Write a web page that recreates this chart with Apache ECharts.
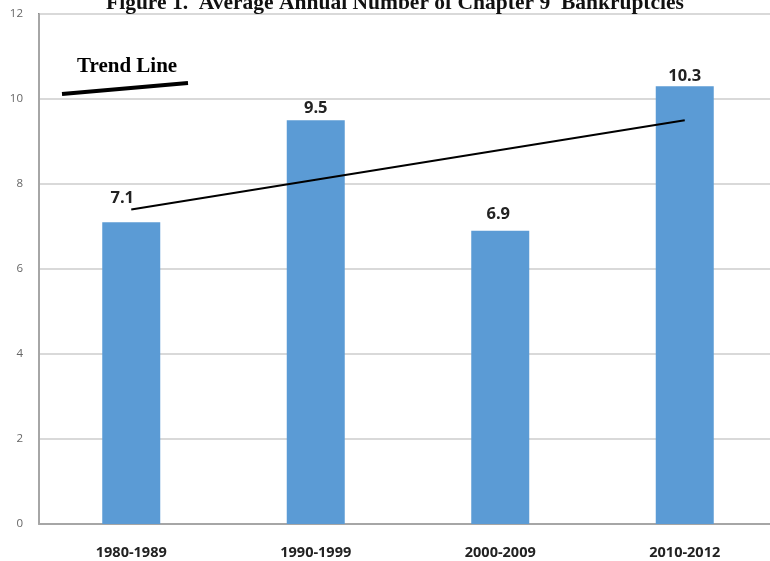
<!DOCTYPE html>
<html>
<head>
<meta charset="utf-8">
<script src="https://cdn.jsdelivr.net/npm/echarts@6/dist/echarts.min.js"></script>
<style>
  html, body { margin: 0; padding: 0; background: #fff; overflow: hidden; }
  #chart { width: 777px; height: 561px; }
</style>
</head>
<body>
<div id="chart"></div>
<script>
// Average annual Chapter 9 bankruptcies by period
const periods = ['1980-1989', '1990-1999', '2000-2009', '2010-2012'];
const avgFilings = [7.1, 9.5, 6.9, 10.3];
// extra lift of each value label above its bar (px)
const labelLift = [12, 0, 5, -2];
const labelShiftX = [-9, 0, -2, 0];
const yTicks = { min: 0, max: 12, interval: 2 };

// least-squares trend across the periods
function linearTrend(values) {
  const n = values.length;
  const mx = (n - 1) / 2;
  const my = values.reduce((a, b) => a + b, 0) / n;
  let num = 0, den = 0;
  values.forEach((v, i) => { num += (i - mx) * (v - my); den += (i - mx) * (i - mx); });
  const slope = num / den;
  return values.map((_, i) => +(my + slope * (i - mx)).toFixed(3));
}
const trend = linearTrend(avgFilings);

const chart = echarts.init(document.getElementById('chart'));
chart.setOption({
  animation: false,
  title: {
    text: 'Figure 1.  Average Annual Number of Chapter 9  Bankruptcies',
    left: 390, textAlign: 'center', top: -13,
    textStyle: { fontFamily: 'Liberation Serif', fontWeight: 'bold', fontSize: 21.5, color: '#111' }
  },
  grid: { left: 39, top: 14, width: 738, height: 510, containLabel: false },
  xAxis: {
    type: 'category',
    data: periods,
    axisLine: { lineStyle: { color: '#a6a6a6', width: 2 } },
    axisTick: { show: false },
    axisLabel: { margin: 21, fontFamily: 'Open Sans', fontSize: 14.5, fontWeight: 'bold', color: '#222' }
  },
  yAxis: {
    type: 'value',
    min: yTicks.min, max: yTicks.max, interval: yTicks.interval,
    axisLine: { show: true, lineStyle: { color: '#a6a6a6', width: 2 } },
    axisTick: { show: false },
    splitLine: { lineStyle: { color: '#d9d9d9', width: 2 } },
    axisLabel: { margin: 16, fontFamily: 'Open Sans', fontSize: 11.5, color: '#666' }
  },
  series: [
    {
      type: 'bar',
      data: avgFilings.map((v, i) => ({
        value: v,
        label: { distance: 3 + labelLift[i], offset: [labelShiftX[i], 0] }
      })),
      barWidth: 58,
      itemStyle: { color: '#5b9bd5' },
      label: {
        show: true, position: 'top',
        fontFamily: 'Open Sans', fontWeight: 'bold', fontSize: 16.5, color: '#222',
        formatter: p => p.value.toFixed(1)
      },
      z: 2
    },
    {
      type: 'line',
      data: trend,
      symbol: 'none',
      lineStyle: { color: '#000', width: 2 },
      z: 3
    }
  ],
  graphic: [
    {
      type: 'text', left: 77, top: 56,
      style: { text: 'Trend Line', font: 'bold 21px "Liberation Serif"', fill: '#000' }
    },
    {
      type: 'line',
      shape: { x1: 62, y1: 94, x2: 188, y2: 83 },
      style: { stroke: '#000', lineWidth: 4, lineCap: 'butt' }
    },
    {
      type: 'line',
      shape: { x1: 38, y1: 14, x2: 777, y2: 14 },
      style: { stroke: '#444', lineWidth: 2 }
    }
  ]
});
</script>
</body>
</html>
